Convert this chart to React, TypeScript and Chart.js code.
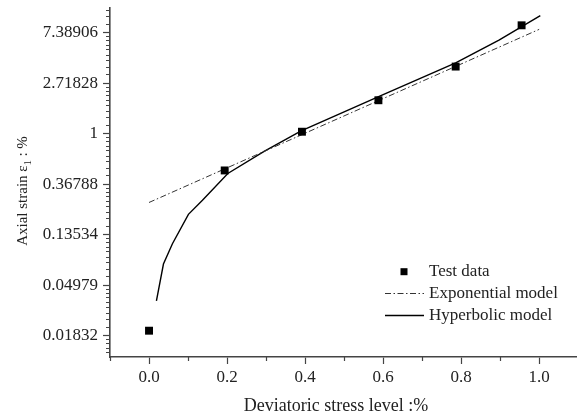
import React, { useEffect, useRef } from "react";
import { Chart, registerables } from "chart.js";

Chart.register(...registerables);

// ---- data ----
const xTickValues = [0, 0.2, 0.4, 0.6, 0.8, 1.0];
const xTickLabels = ["0.0", "0.2", "0.4", "0.6", "0.8", "1.0"];
const xMinorValues = [-0.1, 0.1, 0.3, 0.5, 0.7, 0.9];
const yTickPowers = [-4, -3, -2, -1, 0, 1, 2];
const yTickLabels = ["0.01832", "0.04979", "0.13534", "0.36788", "1", "2.71828", "7.38906"];

const testX = [0, 0.194, 0.392, 0.588, 0.786, 0.955];
const testY = [0.0202, 0.483, 1.04, 1.94, 3.78, 8.56];

const expX = [0, 1.0];
const expY = [0.256, 7.9];

const hypX = [0.019, 0.037, 0.06, 0.101, 0.137, 0.202, 0.295, 0.39, 0.587, 0.786, 0.897, 1.003];
const hypY = [0.0365, 0.0756, 0.113, 0.2025, 0.268, 0.455, 0.704, 1.06, 2.07, 4.06, 6.39, 10.35];

const seriesLabels = ["Test data", "Exponential model", "Hyperbolic model"];
const xTitle = "Deviatoric stress level :%";

const SERIF = "'Liberation Serif', 'Times New Roman', serif";
const AXIS = "#444";
const TEXT = "#222";

const pts = (xs: number[], ys: number[]) => xs.map((x, i) => ({ x, y: ys[i] }));

const minorTicksPlugin = {
  id: "minorTicks",
  afterDraw(chart: any) {
    const { ctx, chartArea } = chart;
    const xs = chart.scales.x;
    const ys = chart.scales.y;
    ctx.save();
    ctx.strokeStyle = AXIS;
    ctx.lineWidth = 1.2;
    ctx.beginPath();
    for (const v of xMinorValues) {
      const px = Math.round(xs.getPixelForValue(v)) + 0.5;
      ctx.moveTo(px, chartArea.bottom);
      ctx.lineTo(px, chartArea.bottom + 4);
    }
    for (let k = -5; k <= 2; k++) {
      const a = Math.exp(k);
      const b = Math.exp(k + 1);
      for (let j = 1; j <= 8; j++) {
        const v = a + (j * (b - a)) / 9;
        if (v < ys.min || v > ys.max) continue;
        const py = Math.round(ys.getPixelForValue(v)) + 0.5;
        ctx.moveTo(chartArea.left - 4, py);
        ctx.lineTo(chartArea.left, py);
      }
    }
    ctx.stroke();
    ctx.restore();
  },
};

const titlesPlugin = {
  id: "titles",
  afterDraw(chart: any) {
    const { ctx } = chart;
    ctx.save();
    ctx.fillStyle = TEXT;
    // x title
    ctx.font = `18px ${SERIF}`;
    ctx.textAlign = "center";
    ctx.textBaseline = "alphabetic";
    ctx.fillText(xTitle, 336, 411);
    // y title with subscript
    const big = `15px ${SERIF}`;
    const small = `10px ${SERIF}`;
    const p1 = "Axial strain \u03b5";
    const p2 = "1";
    const p3 = " : %";
    ctx.font = big;
    const w1 = ctx.measureText(p1).width;
    const w3 = ctx.measureText(p3).width;
    ctx.font = small;
    const w2 = ctx.measureText(p2).width;
    const total = w1 + w2 + w3;
    ctx.translate(27, 191);
    ctx.rotate(-Math.PI / 2);
    ctx.textAlign = "left";
    let x0 = -total / 2;
    ctx.font = big;
    ctx.fillText(p1, x0, 0);
    x0 += w1;
    ctx.font = small;
    ctx.fillText(p2, x0, 4);
    x0 += w2;
    ctx.font = big;
    ctx.fillText(p3, x0, 0);
    ctx.restore();
  },
};

const legendPlugin = {
  id: "customLegend",
  afterDraw(chart: any) {
    const { ctx } = chart;
    const rows = [271.7, 293.5, 315.5];
    ctx.save();
    ctx.font = `17px ${SERIF}`;
    ctx.textBaseline = "middle";
    ctx.textAlign = "left";
    chart.data.datasets.forEach((ds: any, i: number) => {
      const y = rows[i];
      if (ds.showLine === false) {
        ctx.fillStyle = "#000";
        ctx.fillRect(400.5, y - 3.5, 7, 7);
      } else {
        ctx.strokeStyle = ds.borderColor;
        ctx.lineWidth = ds.borderWidth;
        ctx.setLineDash(ds.borderDash || []);
        ctx.beginPath();
        ctx.moveTo(385, y);
        ctx.lineTo(424, y);
        ctx.stroke();
        ctx.setLineDash([]);
      }
      ctx.fillStyle = TEXT;
      ctx.fillText(ds.label, 429, y);
    });
    ctx.restore();
  },
};

export default function App() {
  const ref = useRef<HTMLCanvasElement | null>(null);
  useEffect(() => {
    if (!ref.current) return;
    const chart = new Chart(ref.current, {
      type: "line",
      data: {
        datasets: [
          {
            label: seriesLabels[0],
            data: pts(testX, testY),
            showLine: false,
            pointStyle: "rect",
            pointRadius: 5.6,
            pointBackgroundColor: "#000",
            pointBorderColor: "#000",
            pointBorderWidth: 0,
            borderColor: "#000",
          },
          {
            label: seriesLabels[1],
            data: pts(expX, expY),
            borderColor: "#333",
            borderWidth: 1,
            borderDash: [6, 2.5, 1.5, 2.5],
            pointRadius: 0,
            fill: false,
          },
          {
            label: seriesLabels[2],
            data: pts(hypX, hypY),
            borderColor: "#000",
            borderWidth: 1.4,
            pointRadius: 0,
            tension: 0,
            fill: false,
          },
        ],
      },
      options: {
        animation: false,
        responsive: false,
        devicePixelRatio: 1,
        layout: { autoPadding: false, padding: { top: 8, right: 0, left: 0, bottom: 0 } },
        plugins: { legend: { display: false }, tooltip: { enabled: false } },
        scales: {
          x: {
            type: "linear",
            min: -0.1,
            max: 1.097,
            afterBuildTicks: (scale: any) => {
              scale.ticks = xTickValues.map((v) => ({ value: v }));
            },
            afterFit: (scale: any) => {
              scale.height = 57;
              scale.paddingLeft = 0;
              scale.paddingRight = 0;
            },
            grid: {
              display: true,
              drawOnChartArea: false,
              drawTicks: true,
              tickLength: 7,
              tickColor: AXIS,
              tickWidth: 1.2,
            },
            border: { display: true, color: AXIS, width: 1.6 },
            ticks: {
              autoSkip: false,
              maxRotation: 0,
              padding: 3,
              color: TEXT,
              font: { family: SERIF, size: 17 },
              callback: (_v: any, i: number) => xTickLabels[i],
            },
          },
          y: {
            type: "logarithmic",
            min: Math.exp(-4.423),
            max: Math.exp(2.49),
            afterBuildTicks: (scale: any) => {
              scale.ticks = yTickPowers.map((p) => ({ value: Math.exp(p) }));
            },
            afterFit: (scale: any) => {
              scale.width = 110;
              scale.paddingTop = 0;
              scale.paddingBottom = 0;
            },
            grid: {
              display: true,
              drawOnChartArea: false,
              drawTicks: true,
              tickLength: 7,
              tickColor: AXIS,
              tickWidth: 1.2,
            },
            border: { display: true, color: AXIS, width: 1.6 },
            ticks: {
              autoSkip: false,
              padding: 5,
              color: TEXT,
              font: { family: SERIF, size: 17 },
              callback: (_v: any, i: number) => yTickLabels[i],
            },
          },
        },
      },
      plugins: [minorTicksPlugin, titlesPlugin, legendPlugin],
    } as any);
    return () => chart.destroy();
  }, []);
  return (
    <canvas
      ref={ref}
      width={577}
      height={414}
      style={{ position: "absolute", left: 0, top: 0, display: "block" }}
    />
  );
}
